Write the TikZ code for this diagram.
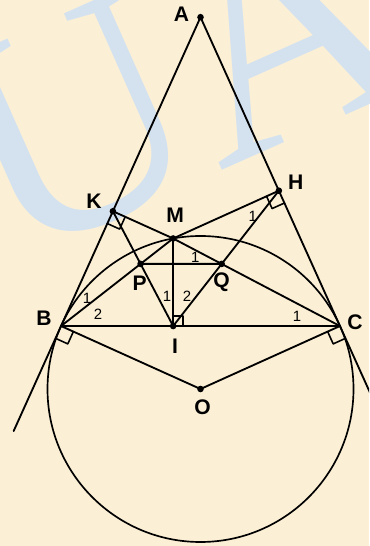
\documentclass[tikz,border=0pt]{standalone}
\usepackage{fontspec}
\setmainfont{Liberation Sans}
\newfontfamily\wmfont{Liberation Serif}
\usetikzlibrary{calc}

\definecolor{paper}{RGB}{251,240,214}
\definecolor{wmblue}{RGB}{212,226,240}

% right angle mark at #2 between rays to #3 and #4
\newcommand{\rtmark}[4][0.27cm]{%
  \draw[line width=0.9pt] ($(#2)!#1!(#3)$) -- ($(#2)!#1!(#3)+(#2)!#1!(#4)-(#2)$) -- ($(#2)!#1!(#4)$);}

\begin{document}
\begin{tikzpicture}[
        x=0.02cm, y=0.02cm,
        line width=1.05pt, line cap=round, line join=round,
        lbl/.style={font=\bfseries\fontsize{12}{14}\selectfont, inner sep=1pt},
        num/.style={font=\fontsize{8.5}{10}\selectfont, inner sep=0pt}
    ]
    % paper
    \fill[paper] (0,0) rectangle (369,546);
    \useasboundingbox (0,0) rectangle (369,546);
    \clip (0,0) rectangle (369,546);
    \node[wmblue, font=\wmfont\fontsize{180}{180}\selectfont, rotate=24, anchor=base west, inner sep=0pt] (wm) at (10,281) {UA};

    % circle, tangents
    \coordinate (O) at (200.5,157);
    \coordinate (B) at ($(O)+(155.7:153)$);
    \coordinate (C) at ($(O)+(24.3:153)$);
    \coordinate (M) at ($(O)+(100.3:153)$);
    \coordinate (Bt) at ($(B)!1!90:(O)$);
    \coordinate (Ct) at ($(C)!1!-90:(O)$);
    \coordinate (A) at (intersection of B--Bt and C--Ct);
    \coordinate (Be) at ($(A)!1.34!(B)$);
    \coordinate (Ce) at ($(A)!1.34!(C)$);

    % feet from M
    \coordinate (K) at ($(A)!(M)!(B)$);
    \coordinate (H) at ($(A)!(M)!(C)$);
    \coordinate (I) at ($(B)!(M)!(C)$);
    \coordinate (P) at (intersection of B--M and K--I);
    \coordinate (Q) at (intersection of C--M and H--I);

    \draw[line width=0.95pt] (O) circle (153);
    \draw (Be) -- (A) -- (Ce);
    \draw (B) -- (C);
    \draw (B) -- (O) -- (C);
    \draw (B) -- (M) -- (C);
    \draw (K) -- (M) -- (H);
    \draw (K) -- (I) -- (H);
    \draw (M) -- (I);
    \draw (P) -- (Q);

    \rtmark{K}{B}{M}
    \rtmark{H}{C}{M}
    \rtmark[0.2cm]{I}{M}{C}
    \rtmark{B}{O}{Be}
    \rtmark{C}{O}{Ce}

    \foreach \p in {A,H,K,M,P,Q,I,O}
        \fill (\p) circle (3.3);

    % labels
    \node[lbl] (lA) at ($(A)+(-19,3)$) {A};
    \node[lbl] (lH) at ($(H)+(17,8)$) {H};
    \node[lbl] (lK) at ($(K)+(-19,10)$) {K};
    \node[lbl] (lM) at ($(M)+(2,23)$) {M};
    \node[lbl] (lP) at ($(P)+(-1,-19)$) {P};
    \node[lbl] (lQ) at ($(Q)+(0,-18)$) {Q};
    \node[lbl] (lB) at ($(B)+(-17,8)$) {B};
    \node[lbl] (lC) at ($(C)+(15,4)$) {C};
    \node[lbl] (lI) at ($(I)+(2,-20)$) {I};
    \node[lbl] (lO) at ($(O)+(2,-18)$) {O};

    % angle numbers
    \node[num] (b1) at ($(B)+(26,28)$) {1};
    \node[num] (b2) at ($(B)+(37,12)$) {2};
    \node[num] (c1) at ($(C)+(-43,10)$) {1};
    \node[num] (m1) at ($(M)+(22,-19)$) {1};
    \node[num] (h1) at ($(H)+(-26,-26)$) {1};
    \node[num] (i1) at ($(I)+(-6,30)$) {1};
    \node[num] (i2) at ($(I)+(14,30)$) {2};
\end{tikzpicture}
\end{document}
